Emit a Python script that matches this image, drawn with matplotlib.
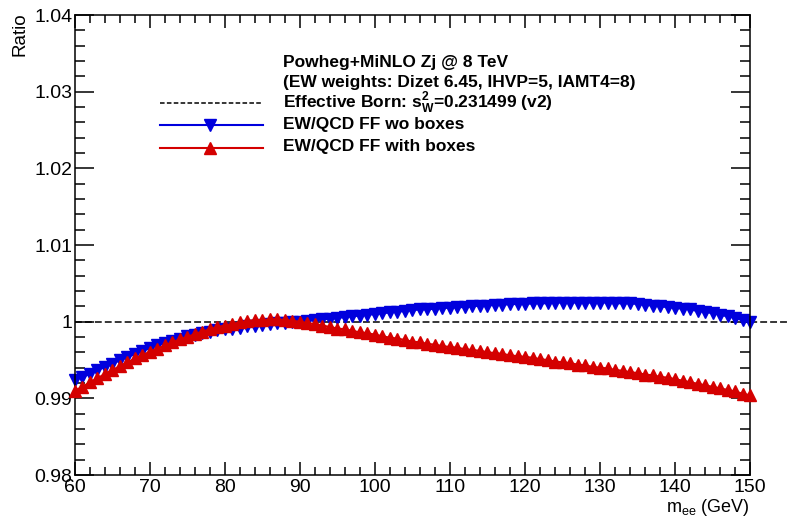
import numpy as np
import matplotlib
matplotlib.use("Agg")
from matplotlib import pyplot as plt
from matplotlib.lines import Line2D
from matplotlib.ticker import MultipleLocator

plt.rcParams['font.family'] = ['Liberation Sans', 'DejaVu Sans']
plt.rcParams['mathtext.fontset'] = 'custom'
plt.rcParams['mathtext.rm'] = 'Liberation Sans'
plt.rcParams['mathtext.bf'] = 'Liberation Sans:bold'

# m_ee (GeV)
mass = np.arange(60, 151, 1)

# EW/QCD FF wo boxes
ratio_wo = [0.9924, 0.9928, 0.9932, 0.9937, 0.9941, 0.9945, 0.9950, 0.9954, 0.9958, 0.9962,
            0.9966, 0.9969, 0.9972, 0.9975, 0.9978, 0.9981, 0.9983, 0.9985, 0.9987, 0.9989,
            0.9990, 0.9991, 0.9992, 0.9994, 0.9995, 0.9996, 0.9997, 0.9998, 0.9998, 0.9999,
            1.0000, 1.0001, 1.0002, 1.0003, 1.0004, 1.0005, 1.0006, 1.0007, 1.0008, 1.0009,
            1.0010, 1.0011, 1.0012, 1.0013, 1.0014, 1.0015, 1.0016, 1.0016, 1.0017, 1.0018,
            1.0018, 1.0019, 1.0019, 1.0020, 1.0021, 1.0021, 1.0022, 1.0022, 1.0023, 1.0023,
            1.0023, 1.0024, 1.0024, 1.0024, 1.0025, 1.0025, 1.0025, 1.0025, 1.0025, 1.0025,
            1.0025, 1.0025, 1.0024, 1.0024, 1.0024, 1.0023, 1.0022, 1.0021, 1.0020, 1.0019,
            1.0018, 1.0017, 1.0016, 1.0014, 1.0013, 1.0011, 1.0009, 1.0007, 1.0005, 1.0002,
            0.9999]

# EW/QCD FF with boxes
ratio_with = [0.9910, 0.9915, 0.9921, 0.9926, 0.9932, 0.9937, 0.9942, 0.9947, 0.9952, 0.9956,
              0.9961, 0.9965, 0.9969, 0.9973, 0.9977, 0.9980, 0.9984, 0.9987, 0.9990, 0.9993,
              0.9995, 0.9997, 0.9999, 1.0001, 1.0002, 1.0002, 1.0003, 1.0003, 1.0002, 1.0001,
              1.0000, 0.9998, 0.9997, 0.9995, 0.9993, 0.9991, 0.9990, 0.9988, 0.9986, 0.9985,
              0.9983, 0.9981, 0.9979, 0.9978, 0.9976, 0.9974, 0.9973, 0.9971, 0.9970, 0.9968,
              0.9967, 0.9966, 0.9964, 0.9963, 0.9962, 0.9960, 0.9959, 0.9958, 0.9956, 0.9955,
              0.9954, 0.9953, 0.9951, 0.9950, 0.9948, 0.9947, 0.9946, 0.9944, 0.9943, 0.9941,
              0.9940, 0.9939, 0.9937, 0.9936, 0.9934, 0.9933, 0.9931, 0.9930, 0.9928, 0.9927,
              0.9925, 0.9923, 0.9921, 0.9919, 0.9917, 0.9915, 0.9913, 0.9911, 0.9909, 0.9906,
              0.9904]

blue = '#0000dd'
red = '#d40000'

fig = plt.figure(figsize=(7.88, 5.18), dpi=100)
ax = fig.add_axes([75/788, 1-475/518, 675/788, 460/518])

ax.plot([60, 155], [1, 1], color='black', ls=(0, (4.5, 2)), lw=1.1, clip_on=False, zorder=1)
ax.plot(mass, ratio_wo, color=blue, lw=1.5, marker='v', ms=8, mec=blue, zorder=2, clip_on=False)
ax.plot(mass, ratio_with, color=red, lw=1.5, marker='^', ms=8, mec=red, zorder=3, clip_on=False)

ax.set_xlim(60, 150)
ax.set_ylim(0.98, 1.04)
ax.xaxis.set_major_locator(MultipleLocator(10))
ax.xaxis.set_minor_locator(MultipleLocator(2))
ax.yaxis.set_minor_locator(MultipleLocator(0.002))
ax.set_yticks([0.98, 0.99, 1.0, 1.01, 1.02, 1.03, 1.04])
ax.set_yticklabels(['0.98', '0.99', '1', '1.01', '1.02', '1.03', '1.04'])

ax.tick_params(axis='both', which='both', direction='in', top=True, right=True,
               labelsize=14, width=1.1)
ax.tick_params(axis='x', which='major', length=9.5, pad=3)
ax.tick_params(axis='x', which='minor', length=5.5)
ax.tick_params(axis='y', which='major', length=14, pad=2)
ax.tick_params(axis='y', which='minor', length=7)
for sp in ax.spines.values():
    sp.set_linewidth(1.1)

fig.text(750/788, 1-507/518, r'm$_{\mathrm{ee}}$ (GeV)', ha='right', va='center', fontsize=13)
fig.text(20/788, 1-12/518, 'Ratio', rotation=90, ha='center', va='top', fontsize=13.5)

# legend block
tx = 283/788
fs = 12.5
fig.text(tx, 1-62/518, 'Powheg+MiNLO Zj @ 8 TeV', fontsize=fs, fontweight='bold', va='center')
fig.text(tx, 1-82/518, '(EW weights: Dizet 6.45, IHVP=5, IAMT4=8)', fontsize=fs,
         fontweight='bold', va='center')
fig.text(tx, 1-102/518, r'Effective Born: $\mathbf{s}_{\mathbf{W}}^{\mathbf{2}}$=0.231499 (v2)',
         fontsize=fs, fontweight='bold', va='center')
fig.text(tx, 1-124/518, 'EW/QCD FF wo boxes', fontsize=fs, fontweight='bold', va='center')
fig.text(tx, 1-147/518, 'EW/QCD FF with boxes', fontsize=fs, fontweight='bold', va='center')

x0, x1, xm = 160/788, 263/788, 210/788
fig.add_artist(Line2D([x0, x1], [1-103/518, 1-103/518], color='black', ls=(0, (3, 1.5)), lw=1.1))
fig.add_artist(Line2D([x0, x1], [1-125/518, 1-125/518], color=blue, lw=1.5))
fig.add_artist(Line2D([xm], [1-125/518], color=blue, marker='v', ms=8))
fig.add_artist(Line2D([x0, x1], [1-148/518, 1-148/518], color=red, lw=1.5))
fig.add_artist(Line2D([xm], [1-148/518], color=red, marker='^', ms=8))

fig.savefig('out.png', dpi=100)
